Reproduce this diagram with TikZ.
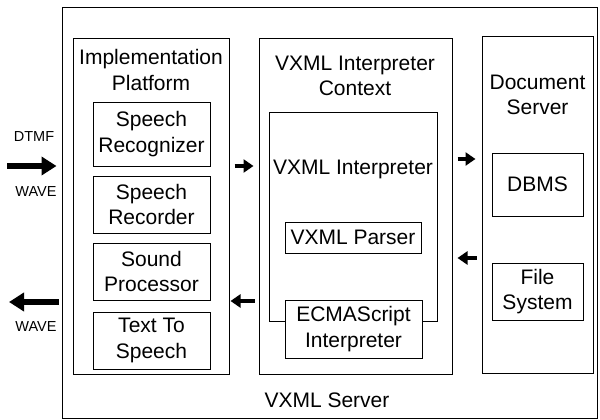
\documentclass[tikz,border=0pt]{standalone}
\usepackage{fontspec}
\setmainfont{Liberation Sans}
\usetikzlibrary{arrows.meta}
\begin{document}
\begin{tikzpicture}[x=1pt,y=-1pt,
  frame/.style={draw, line width=1pt, fill=white, inner sep=0pt},
  box/.style={frame, align=center, font=\fontsize{21}{25.5}\selectfont},
  title/.style={align=center, inner sep=0pt, font=\fontsize{21}{25.5}\selectfont},
  sig/.style={inner sep=0pt, font=\fontsize{14.5}{16}\selectfont},
  bigarrow/.style={line width=6pt, -{Triangle[length=15pt,width=18pt]}},
  smallarrow/.style={line width=4.5pt, -{Triangle[length=10pt,width=13pt]}}]
\useasboundingbox (0,0) rectangle (600,420);

% server frame
\node[frame, minimum width=535pt, minimum height=410.5pt] (server) at (329.5,213.25) {};
\node[title] (servertitle) at (327,400) {VXML Server};

% implementation platform
\node[frame, minimum width=156pt, minimum height=335pt] (impl) at (151,206.5) {};
\node[title] (impltitle) at (151,70) {Implementation\\Platform};
\node[box, minimum width=117pt, minimum height=64pt] (recog) at (151.5,134) {Speech\\Recognizer};
\node[box, minimum width=117pt, minimum height=57pt] (recor) at (151.5,204.5) {Speech\\Recorder};
\node[box, minimum width=117pt, minimum height=57pt] (sound) at (151.5,271.5) {Sound\\Processor};
\node[box, minimum width=117pt, minimum height=57pt] (tts) at (151.5,340.5) {Text To\\Speech};

% interpreter context
\node[frame, minimum width=193pt, minimum height=335pt] (ctx) at (355.5,206.5) {};
\node[title] (ctxtitle) at (355,76) {VXML Interpreter\\Context};
\node[frame, minimum width=168pt, minimum height=209pt] (interp) at (353,216.5) {};
\node[title] (interptitle) at (353,169) {VXML Interpreter};
\node[box, minimum width=136pt, minimum height=31pt] (parser) at (353,237.5) {VXML Parser};
\node[box, minimum width=137pt, minimum height=58pt] (ecma) at (353.5,329) {ECMAScript\\Interpreter};

% document server
\node[frame, minimum width=111pt, minimum height=336pt] (doc) at (537.5,205) {};
\node[title] (doctitle) at (537.5,95) {Document\\Server};
\node[box, minimum width=91pt, minimum height=63pt] (dbms) at (537.5,184.5) {DBMS};
\node[box, minimum width=91pt, minimum height=57pt] (fs) at (537.5,291.5) {File\\System};

% external signals
\coordinate (inend) at (7,166);
\coordinate (outend) at (9,302);
\node[sig] (dtmf) at (34,137) {DTMF};
\node[sig] (wavein) at (36,192) {WAVE};
\node[sig] (waveout) at (36,327) {WAVE};
\draw[bigarrow, shorten >=5pt] (inend) -- (server.west |- inend);
\draw[bigarrow, shorten <=3pt] (server.west |- outend) -- (outend);

% internal flows
\draw[smallarrow, shorten <=5pt, shorten >=5pt] (impl.east |- 0,166) -- (ctx.west |- 0,166);
\draw[smallarrow, shorten <=5pt, shorten >=6pt] (ctx.east |- 0,159) -- (doc.west |- 0,159);
\draw[smallarrow, shorten <=5pt, shorten >=5pt] (doc.west |- 0,258) -- (ctx.east |- 0,258);
\draw[smallarrow, shorten <=4pt, shorten >=1pt] (ctx.west |- 0,301) -- (impl.east |- 0,301);
\end{tikzpicture}
\end{document}
